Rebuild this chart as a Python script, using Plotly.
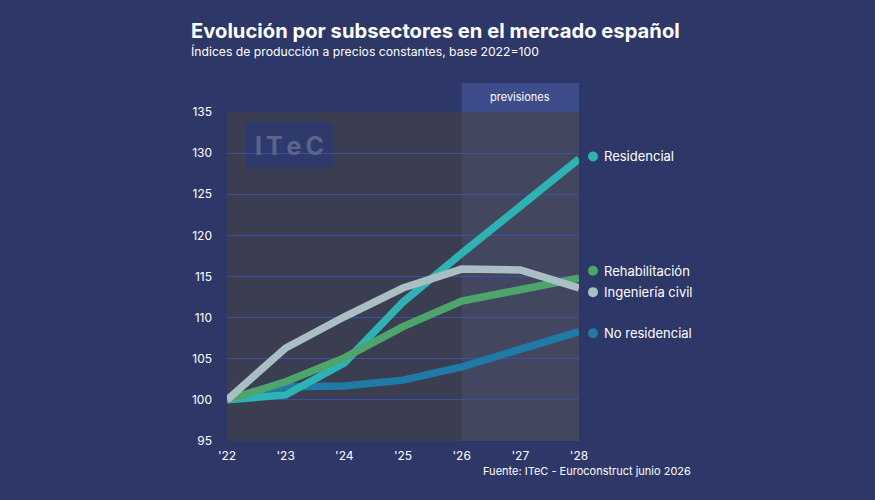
import plotly.graph_objects as go

years = [2022, 2023, 2024, 2025, 2026, 2027, 2028]
tick_labels = ["'22", "'23", "'24", "'25", "'26", "'27", "'28"]

residencial = [100, 100.6, 104.5, 111.9, 117.8, 123.5, 129.3]
no_residencial = [100, 101.6, 101.7, 102.4, 104.0, 106.2, 108.3]
rehabilitacion = [100, 102.2, 105.1, 108.9, 112.0, 113.5, 114.8]
ingenieria_civil = [100, 106.3, 110.1, 113.6, 115.9, 115.8, 113.6]

series = [
    ("No residencial", no_residencial, "#1f7aa6", 108.1),
    ("Residencial", residencial, "#2fb2b4", 129.6),
    ("Rehabilitación", rehabilitacion, "#4ea56c", 115.7),
    ("Ingeniería civil", ingenieria_civil, "#a9bfc3", 113.1),
]

FONT = "Inter"
BG = "#2d3768"
L, R, T, B = 227, 579, 112, 441
PW, PH = R - L, B - T


def px(x):
    return (x - L) / PW


def py(y):
    return (B - y) / PH


fig = go.Figure()

for name, vals, col, ly in series:
    fig.add_trace(go.Scatter(
        x=years, y=vals, mode="lines", name=name,
        line=dict(color=col, width=7.5), showlegend=False, hoverinfo="skip",
    ))

for name, vals, col, ly in series:
    fig.add_shape(type="circle", xref="paper", yref="y",
                  xsizemode="pixel", ysizemode="pixel",
                  xanchor=px(593), yanchor=ly, x0=-5, x1=5, y0=-5, y1=5,
                  fillcolor=col, line_width=0, layer="above")
    fig.add_annotation(
        x=px(602), y=ly, xref="paper", yref="y", text=name, showarrow=False,
        xanchor="left", yanchor="middle",
        font=dict(family=FONT, size=13, color="white"),
    )

# forecast shading
fig.add_shape(type="rect", xref="x", yref="paper", x0=2026, x1=2028, y0=0, y1=1,
              fillcolor="#43465f", line_width=0, layer="below")
fig.add_shape(type="rect", xref="x", yref="paper", x0=2026, x1=2028, y0=1, y1=py(83),
              fillcolor="#3e4c8c", line_width=0, layer="below")
fig.add_annotation(x=2027, y=py(97), xref="x", yref="paper", text="previsiones",
                   showarrow=False, xanchor="center", yanchor="middle",
                   font=dict(family=FONT, size=11, color="white"))

# ITeC watermark box
fig.add_shape(type="rect", xref="paper", yref="paper",
              x0=px(246), x1=px(333), y0=py(168), y1=py(122),
              fillcolor="#2e3a6c", line_width=0, layer="between")
fig.add_annotation(x=px(289.5), y=py(146), xref="paper", yref="paper",
                   text="<b>I\u2009T\u2009e\u2009C</b>", showarrow=False,
                   xanchor="center", yanchor="middle",
                   font=dict(family=FONT, size=25, color="#5c6587"))

fig.add_annotation(x=px(189), y=py(30), xref="paper", yref="paper",
                   text="<b>Evolución por subsectores en el mercado español</b>",
                   showarrow=False, xanchor="left", yanchor="middle",
                   font=dict(family=FONT, size=20.2, color="white"))
fig.add_annotation(x=px(189), y=py(51), xref="paper", yref="paper",
                   text="Índices de producción a precios constantes, base 2022=100",
                   showarrow=False, xanchor="left", yanchor="middle",
                   font=dict(family=FONT, size=12.2, color="white"))
fig.add_annotation(x=px(693), y=py(471), xref="paper", yref="paper",
                   text="Fuente: ITeC - Euroconstruct junio 2026",
                   showarrow=False, xanchor="right", yanchor="middle",
                   font=dict(family=FONT, size=11, color="white"))

fig.update_layout(
    width=875, height=500,
    margin=dict(l=L, r=875 - R, t=T, b=500 - B),
    paper_bgcolor=BG, plot_bgcolor="#3b3d50",
    font=dict(family=FONT, color="white", size=12),
    xaxis=dict(range=[2022, 2028], tickvals=years, ticktext=tick_labels,
               showgrid=False, zeroline=False, showline=False, ticks="",
               tickfont=dict(size=12, color="white"), ticklabelstandoff=6),
    yaxis=dict(range=[95, 135], tickvals=[95, 100, 105, 110, 115, 120, 125, 130, 135],
               showgrid=True, gridcolor="#3a50a8", gridwidth=1, zeroline=False,
               showline=False, ticks="", ticklabelstandoff=14,
               tickfont=dict(size=12, color="white")),
)

fig.write_html("out.html")
